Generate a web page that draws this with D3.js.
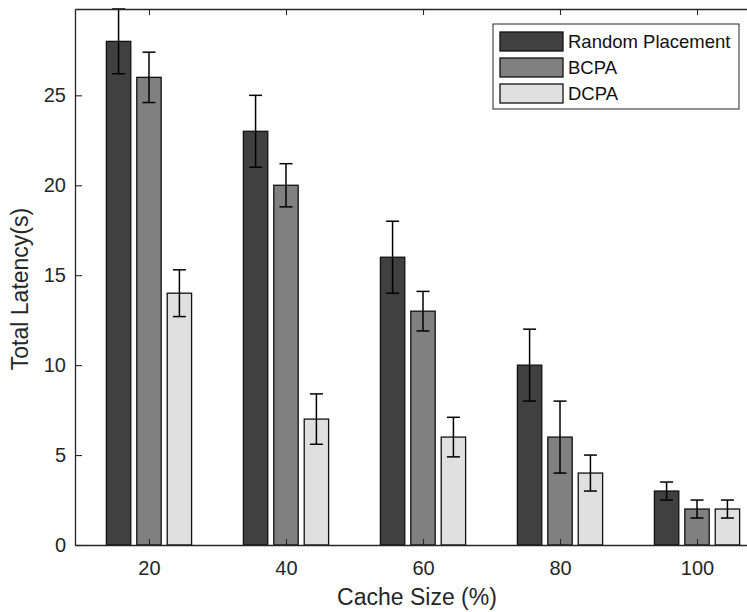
<!DOCTYPE html>
<html>
<head>
<meta charset="utf-8">
<script src="https://cdn.jsdelivr.net/npm/d3@7"></script>
<style>
  body { margin: 0; background: #fff; }
  svg { display: block; font-family: "Liberation Sans", Arial, Helvetica, sans-serif; }
</style>
</head>
<body>
<div id="chart"></div>
<script>
// Chart data.
var cacheSizes = [20, 40, 60, 80, 100];
var seriesNames = ["Random Placement", "BCPA", "DCPA"];
var randomVals = [28, 23, 16, 10, 3];
var bcpaVals = [26, 20, 13, 6, 2];
var dcpaVals = [14, 7, 6, 4, 2];
var randomErr = [1.8, 2, 2, 2, 0.5];
var bcpaErr = [1.4, 1.2, 1.1, 2, 0.5];
var dcpaErr = [1.3, 1.4, 1.1, 1, 0.5];
var yTicks = [0, 5, 10, 15, 20, 25];

var colors = ["#404040", "#808080", "#e0e0e0"];
var textColor = "#262626";

var width = 747, height = 612;
var m = { left: 75, top: 9, bottom: 545 };

var svg = d3.select("#chart").append("svg")
    .attr("width", width)
    .attr("height", height);

// x axis runs past the right edge of the picture (it is cropped there)
var x = d3.scaleLinear().domain([9.2, 110.8]).range([m.left, 771]);
var y = d3.scaleLinear().domain([0, 29.8]).range([m.bottom, m.top]);

var series = [
  { name: seriesNames[0], vals: randomVals, err: randomErr },
  { name: seriesNames[1], vals: bcpaVals, err: bcpaErr },
  { name: seriesNames[2], vals: dcpaVals, err: dcpaErr }
];

// grouped bar geometry, in data units (matlab style)
var offset = 4.44;
var barW = 3.56;

var plot = svg.append("g");

series.forEach(function(s, si) {
  var g = plot.append("g");
  var pts = cacheSizes.map(function(c, i) {
    return { cx: c + (si - 1) * offset, v: s.vals[i], e: s.err[i] };
  });

  g.selectAll("rect")
      .data(pts)
      .enter().append("rect")
      .attr("x", function(d) { return x(d.cx - barW / 2); })
      .attr("y", function(d) { return y(d.v); })
      .attr("width", x(barW) - x(0))
      .attr("height", function(d) { return y(0) - y(d.v); })
      .style("fill", colors[si])
      .style("stroke", "#111")
      .style("stroke-width", 1.3);

  // error bars
  var eb = g.selectAll("g.err")
      .data(pts)
      .enter().append("g")
      .attr("class", "err")
      .style("stroke", "#000")
      .style("stroke-width", 1.5);
  eb.append("line")
      .attr("x1", function(d) { return x(d.cx); })
      .attr("x2", function(d) { return x(d.cx); })
      .attr("y1", function(d) { return y(d.v - d.e); })
      .attr("y2", function(d) { return y(d.v + d.e); });
  eb.append("line")
      .attr("x1", function(d) { return x(d.cx) - 6.5; })
      .attr("x2", function(d) { return x(d.cx) + 6.5; })
      .attr("y1", function(d) { return y(d.v + d.e); })
      .attr("y2", function(d) { return y(d.v + d.e); });
  eb.append("line")
      .attr("x1", function(d) { return x(d.cx) - 6.5; })
      .attr("x2", function(d) { return x(d.cx) + 6.5; })
      .attr("y1", function(d) { return y(d.v - d.e); })
      .attr("y2", function(d) { return y(d.v - d.e); });
});

// Axes: inward ticks, box on
var xAxis = svg.append("g")
    .attr("transform", "translate(0," + m.bottom + ")")
    .call(d3.axisBottom(x).tickValues(cacheSizes).tickSizeInner(-6).tickSizeOuter(0).tickPadding(16));
var xTop = svg.append("g")
    .attr("transform", "translate(0," + m.top + ")")
    .call(d3.axisTop(x).tickValues(cacheSizes).tickSizeInner(-6).tickSizeOuter(0).tickFormat(""));
var yAxis = svg.append("g")
    .attr("transform", "translate(" + m.left + ",0)")
    .call(d3.axisLeft(y).tickValues(yTicks).tickSizeInner(-7).tickSizeOuter(0).tickPadding(9));

[xAxis, xTop, yAxis].forEach(function(a) {
  a.select(".domain").style("stroke", textColor).style("stroke-width", 1.3);
  a.selectAll(".tick line").style("stroke", textColor).style("stroke-width", 1.1);
  a.selectAll(".tick text")
      .style("fill", textColor)
      .style("font-size", "20px")
      .style("font-family", "'Liberation Sans', Arial, sans-serif");
});

// axis labels
svg.append("text")
    .attr("x", 417)
    .attr("y", 605)
    .attr("text-anchor", "middle")
    .style("font-size", "23px")
    .style("fill", textColor)
    .text("Cache Size (%)");

svg.append("text")
    .attr("transform", "translate(28,289) rotate(-90)")
    .attr("text-anchor", "middle")
    .style("font-size", "23px")
    .style("fill", textColor)
    .text("Total Latency(s)");

// Legend
var leg = svg.append("g").attr("transform", "translate(493,24)");
leg.append("rect")
    .attr("width", 246)
    .attr("height", 85)
    .style("fill", "#fff")
    .style("stroke", textColor)
    .style("stroke-width", 1);

var items = leg.selectAll("g.item")
    .data(series)
    .enter().append("g")
    .attr("class", "item")
    .attr("transform", function(d, i) { return "translate(7," + (8 + i * 26) + ")"; });
items.append("rect")
    .attr("width", 63)
    .attr("height", 19)
    .style("fill", function(d, i) { return colors[i]; })
    .style("stroke", "#111")
    .style("stroke-width", 1.3);
items.append("text")
    .attr("x", 68)
    .attr("y", 16)
    .style("font-size", "18.5px")
    .style("fill", "#111")
    .text(function(d) { return d.name; });
</script>
</body>
</html>
